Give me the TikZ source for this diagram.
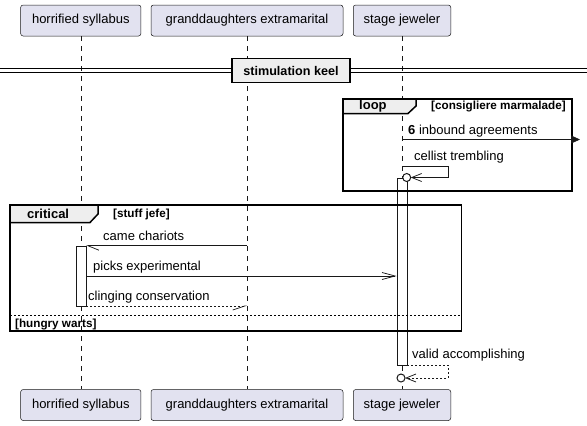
\documentclass[tikz,border=0pt]{standalone}
\usepackage{fontspec}
\setmainfont{Liberation Sans}
\usetikzlibrary{arrows.meta}
\definecolor{partfill}{HTML}{E2E2F0}
\definecolor{linec}{HTML}{181818}
\definecolor{tabfill}{HTML}{EEEEEE}
\begin{document}
\begin{tikzpicture}[x=1pt,y=-1pt,
  part/.style={draw=linec, fill=partfill, rounded corners=2.5pt, line width=0.5pt, minimum height=31pt, inner sep=0pt, font=\fontsize{13}{15}\selectfont},
  life/.style={draw=linec, line width=0.5pt, dash pattern=on 5pt off 5pt},
  frame/.style={draw=black, line width=1.5pt},
  tab/.style={draw=black, fill=tabfill, line width=1.5pt},
  msg/.style={font=\fontsize{13}{15}\selectfont, anchor=west, inner sep=0pt},
  flab/.style={font=\bfseries\fontsize{13}{15}\selectfont, anchor=west, inner sep=0pt},
  cond/.style={font=\bfseries\fontsize{11.7}{13}\selectfont, inner sep=0pt},
  act/.style={draw=linec, fill=white, line width=0.75pt},
  conn/.style={draw=linec, line width=0.75pt},
  dconn/.style={conn, dash pattern=on 2pt off 2pt},
  barb/.style={-{Straight Barb[length=10pt,width=8pt]}},
]
\useasboundingbox (0,0) rectangle (587,426);
% participants
\node[part, minimum width=120.3pt] (p1t) at (80.8,20.5) {horrified syllabus};
\node[part, minimum width=192pt] (p2t) at (247,20.5) {granddaughters extramarital};
\node[part, minimum width=97.5pt] (p3t) at (402,20.5) {stage jeweler};
\node[part, minimum width=120.3pt] (p1b) at (80.8,405) {horrified syllabus};
\node[part, minimum width=192pt] (p2b) at (247,405) {granddaughters extramarital};
\node[part, minimum width=97.5pt] (p3b) at (402,405) {stage jeweler};
% lifelines
\draw[life] (p1t.south) -- (p1b.north);
\draw[life] (p2t.south) -- (p2b.north);
\draw[life] (p3t.south) -- (p3b.north);
% divider
\draw[line width=1pt] (0,68) -- (587,68);
\draw[line width=1pt] (0,72) -- (587,72);
\node[draw=black, fill=tabfill, line width=1.5pt, minimum width=118pt, minimum height=24pt, inner sep=0pt, font=\bfseries\fontsize{12.6}{14}\selectfont] (div) at (291,70.5) {stimulation keel\hspace{12pt}};
% activation bars
\node[act, minimum width=10.5pt, minimum height=187pt, inner sep=0pt, anchor=north west] (a3) at (396.5,178) {};
\node[act, minimum width=10pt, minimum height=60.3pt, inner sep=0pt, anchor=north west] (a1) at (76,245.7) {};
% loop frame
\draw[frame] (343,99) rectangle (572,191);
\draw[tab] (343,99) -- (416,99) -- (416,106) -- (408,113.5) -- (343,113.5) -- cycle;
\node[flab] (looplab) at (359,106.5) {loop};
\node[cond, anchor=east] (loopcond) at (566,106.5) {[consigliere marmalade]};
% critical frame
\draw[frame] (10,205) rectangle (461.7,331);
\draw[tab] (10,205) -- (98,205) -- (98,214) -- (90,222.5) -- (10,222.5) -- cycle;
\node[flab] (critlab) at (27,214) {critical};
\node[cond, anchor=west] (critcond) at (113,214) {[stuff jefe]};
\draw[line width=1pt, dash pattern=on 2pt off 2pt] (10,315) -- (461.7,315);
\node[cond, anchor=west] (elsecond) at (15,324) {[hungry warts]};
% messages
\coordinate (m1s) at (402,139.5);
\coordinate (m1e) at (580,139.5);
\node[msg] (t1) at (408,131.5) {\textbf{6} inbound agreements};
\draw[conn, -{Triangle[length=9pt,width=8pt]}] (m1s) -- (m1e);

\coordinate (m2s) at (402,166);
\coordinate (m2e) at (410.7,177.5);
\node[msg] (t2) at (414,157) {cellist trembling};
\draw[conn, barb] (m2s) -- (448,166) -- (448,177.5) -- (m2e);
\node[draw=linec, fill=white, line width=1pt, circle, minimum size=8pt, inner sep=0pt] (c1) at (406.7,177.5) {};

\coordinate (m3s) at (247,245.7);
\coordinate (m3e) at (86,245.7);
\node[msg] (t3) at (103,236) {came chariots};
\draw[conn, -{Straight Barb[harpoon,length=11pt,width=9pt]}] (m3s) -- (m3e);

\coordinate (m4s) at (86,276);
\coordinate (m4e) at (396.5,276);
\node[msg] (t4) at (93,266.7) {picks experimental};
\draw[conn, -{Straight Barb[length=13pt,width=7pt]}] (m4s) -- (m4e);

\coordinate (m5s) at (86,306);
\coordinate (m5e) at (247,306);
\node[msg] (t5) at (88,297.3) {clinging conservation};
\draw[dconn, -{Straight Barb[harpoon,swap,length=12pt,width=8pt]}] (m5s) -- (m5e);

\coordinate (m6s) at (407,365);
\coordinate (m6e) at (405,378);
\node[msg] (t6) at (412,355) {valid accomplishing};
\draw[dconn, barb] (m6s) -- (448,365) -- (448,378) -- (m6e);
\node[draw=linec, fill=white, line width=1pt, circle, minimum size=8pt, inner sep=0pt] (c2) at (401,378) {};
\end{tikzpicture}
\end{document}
